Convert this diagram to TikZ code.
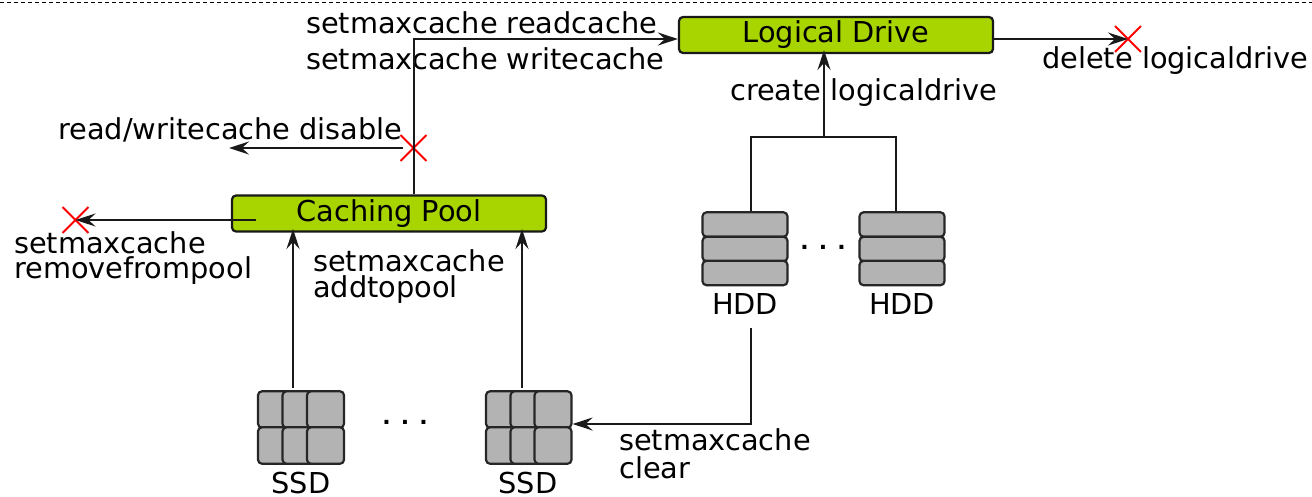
\documentclass[tikz,border=0pt]{standalone}
\usepackage{fontspec}
\setmainfont{DejaVu Sans}
\usepackage{tikz}
\usetikzlibrary{arrows.meta,shapes.misc}
\definecolor{drivegreen}{HTML}{A8D400}
\definecolor{diskgray}{HTML}{B3B3B3}
\tikzset{
  >={Stealth[length=20pt,width=13pt,inset=7pt]},
  label/.style={inner sep=0pt, font=\fontsize{28.8}{28.8}\selectfont},
  dotrow/.style={inner sep=0pt, font=\fontsize{22}{22}\selectfont\bfseries},
  volume/.style={rectangle, rounded corners=4pt, draw=black!90, line width=2.2pt, fill=drivegreen,
                 minimum width=314pt, minimum height=36pt, inner sep=0pt,
                 font=\fontsize{28.8}{28.8}\selectfont},
  disk/.style={rectangle, rounded corners=4pt, draw=black!85, line width=2.2pt, fill=diskgray,
               minimum width=85pt, minimum height=24.4pt, inner sep=0pt},
  flash/.style={rectangle, rounded corners=4pt, draw=black!85, line width=2.2pt, fill=diskgray,
                minimum width=37pt, minimum height=36.5pt, inner sep=0pt},
  nope/.style={cross out, draw=red, line width=1.8pt, minimum width=24pt, minimum height=24pt, inner sep=0pt},
  line/.style={draw, line width=2pt, black!90}
}

\begin{document}
\begin{tikzpicture}[x=1pt,y=-1pt]
    \useasboundingbox (0,0) rectangle (1312,496);
    \draw [line width=0.9pt, dash pattern=on 4pt off 3pt] (0,2) -- (1312,2);

    % Draw boxes
    \node (logical) [volume] at (836,35) {Logical Drive};
    \node (pool) [volume] at (389,213.5) {Caching Pool};

    % Draw disks
    \node (hddaa) [disk] at (745,224.5) {};
    \node (hddab) [disk] at (745,249) {};
    \node (hddac) [disk] at (745,273) {};
    \node (hddba) [disk] at (902,224.5) {};
    \node (hddbb) [disk] at (902,249) {};
    \node (hddbc) [disk] at (902,273) {};
    \node (hddalabel) [label] at (745,304) {HDD};
    \node (hddblabel) [label] at (902,304) {HDD};
    \node (hdddots) [dotrow] at (823,247) {. . .};

    \node (ssdaa) [flash] at (276.5,409.5) {};
    \node (ssdab) [flash] at (301,409.5) {};
    \node (ssdac) [flash] at (325.5,409.5) {};
    \node (ssdad) [flash] at (276.5,445.5) {};
    \node (ssdae) [flash] at (301,445.5) {};
    \node (ssdaf) [flash] at (325.5,445.5) {};
    \node (ssdba) [flash] at (504.5,409.5) {};
    \node (ssdbb) [flash] at (529,409.5) {};
    \node (ssdbc) [flash] at (553,409.5) {};
    \node (ssdbd) [flash] at (504.5,445.5) {};
    \node (ssdbe) [flash] at (529,445.5) {};
    \node (ssdbf) [flash] at (553,445.5) {};
    \node (ssdalabel) [label] at (301,483) {SSD};
    \node (ssdblabel) [label] at (528,483) {SSD};
    \node (ssddots) [dotrow] at (405,422) {. . .};

    % Draw crosses
    \node (nodisable) [nope] at (413.5,148) {};
    \node (noremove) [nope] at (75.5,220) {};
    \node (nodelete) [nope] at (1128,39) {};

    % Draw labels
    \node (readcache) [label, anchor=west] at (306,23) {setmaxcache readcache};
    \node (writecache) [label, anchor=west] at (306,59) {setmaxcache writecache};
    \node (disable) [label, anchor=west] at (58,130) {read/writecache disable};
    \node (removea) [label, anchor=west] at (14,243) {setmaxcache};
    \node (removeb) [label, anchor=west] at (14,271) {removefrompool};
    \node (addtoa) [label, anchor=west] at (313,261) {setmaxcache};
    \node (addtob) [label, anchor=west] at (313,290) {addtopool};
    \node (deldrive) [label, anchor=west] at (1042,61) {delete logicaldrive};
    \node (create) [label, anchor=west] at (730,93) {create logicaldrive};
    \node (cleara) [label, anchor=west] at (619,440) {setmaxcache};
    \node (clearb) [label, anchor=west] at (619,468) {clear};

    % Draw connectors
    \coordinate (topbend) at (413.5,39);
    \coordinate (disableend) at (229,148);
    \coordinate (poolinner) at (256,220);
    \coordinate (hddjoin) at (824,137);
    \coordinate (hddastart) at (751,211);
    \coordinate (hddbstart) at (896,211);
    \coordinate (clearstart) at (751,328);
    \coordinate (clearbend) at (751,424);
    \coordinate (ssdastart) at (293,388);
    \coordinate (ssdbstart) at (522,388);
    \coordinate (poolatip) at (293,229);
    \coordinate (poolbtip) at (522,229);
    \coordinate (logicaltip) at (824,50);

    \draw [line,->] (pool.north -| topbend) -- (topbend) -- (logical.west |- topbend);
    \draw [line,->] (nodisable.center) ++(-11,0) -- (disableend);
    \draw [line,->] (poolinner) -- (noremove.center);
    \draw [line,->] (logical.east |- nodelete) -- (nodelete.center);
    \draw [line] (hddastart) |- (hddjoin) -| (hddbstart);
    \draw [line,->] (hddjoin) -- (logicaltip);
    \draw [line,->] (ssdastart) -- (poolatip);
    \draw [line,->] (ssdbstart) -- (poolbtip);
    \draw [line,->] (clearstart) -- (clearbend) -- (ssdbf.east |- clearbend);
\end{tikzpicture}
\end{document}
